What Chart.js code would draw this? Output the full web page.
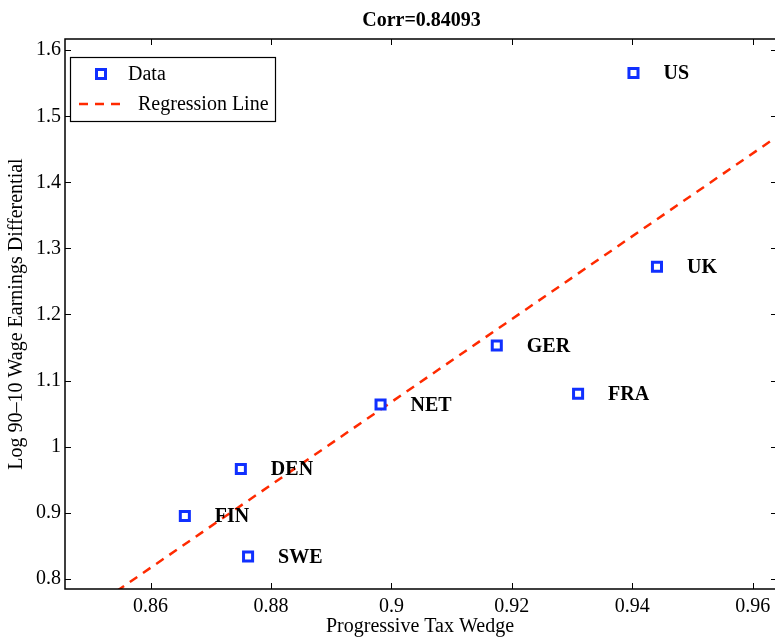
<!DOCTYPE html>
<html>
<head>
<meta charset="utf-8">
<script src="https://cdn.jsdelivr.net/npm/chart.js@4"></script>
<style>
  html, body { margin: 0; padding: 0; background: #fff; overflow: hidden; }
  canvas { display: block; }
</style>
</head>
<body>
<canvas id="myChart" width="775" height="637"></canvas>
<script>
const countries = ["US", "UK", "GER", "FRA", "NET", "DEN", "FIN", "SWE"];
const taxWedge = [0.9402, 0.9441, 0.9175, 0.9310, 0.8982, 0.8750, 0.8657, 0.8762];
const wageDiff = [1.5655, 1.2723, 1.1531, 1.0800, 1.0638, 0.9660, 0.8949, 0.8337];

const regX = [0.85, 0.97];
const regY = [0.7537, 1.5066];

const xTicks = [0.86, 0.88, 0.9, 0.92, 0.94, 0.96];
const yTicks = [0.8, 0.9, 1, 1.1, 1.2, 1.3, 1.4, 1.5, 1.6];

const titleText = "Corr=0.84093";

const FONT = "'Liberation Serif', 'Times New Roman', serif";
const BLUE = "#1030ff";
const RED = "#ff2a00";

Chart.defaults.font.family = FONT;
Chart.defaults.color = "#000";

const ctx = document.getElementById("myChart");

// matlab style box with inward ticks, labels, legend
// (the right side of the axes box is cut off by the picture edge)
const boxPlugin = {
  id: "box",
  afterDatasetsDraw(chart) {
    const { ctx, chartArea: a, scales } = chart;
    ctx.save();
    ctx.strokeStyle = "#000";
    ctx.lineWidth = 1;
    const t = 6;
    scales.x.ticks.forEach((tk) => {
      const px = Math.round(scales.x.getPixelForValue(tk.value)) + 0.5;
      ctx.beginPath();
      ctx.moveTo(px, a.bottom); ctx.lineTo(px, a.bottom - t);
      ctx.moveTo(px, a.top); ctx.lineTo(px, a.top + t);
      ctx.stroke();
    });
    scales.y.ticks.forEach((tk) => {
      const py = Math.round(scales.y.getPixelForValue(tk.value)) + 0.5;
      ctx.beginPath();
      ctx.moveTo(a.left, py); ctx.lineTo(a.left + t, py);
      ctx.moveTo(a.right, py); ctx.lineTo(a.right - 4, py);
      ctx.stroke();
    });
    ctx.lineWidth = 1.5;
    ctx.beginPath();
    ctx.moveTo(a.right, a.top); ctx.lineTo(a.left, a.top);
    ctx.lineTo(a.left, a.bottom); ctx.lineTo(a.right, a.bottom);
    ctx.stroke();

    // country labels
    ctx.fillStyle = "#000";
    ctx.font = "bold 20px " + FONT;
    ctx.textBaseline = "middle";
    ctx.textAlign = "left";
    countries.forEach((c, i) => {
      const px = scales.x.getPixelForValue(taxWedge[i]);
      const py = scales.y.getPixelForValue(wageDiff[i]);
      ctx.fillText(c, px + 30, py + 1);
    });

    // title, centred on the full axes (which run 3px past the edge)
    ctx.textAlign = "center";
    ctx.fillText(titleText, (a.left + a.right + 3) / 2, 21);
    ctx.restore();
  },
  afterDraw(chart) {
    const { ctx } = chart;
    ctx.save();
    ctx.fillStyle = "#fff";
    ctx.fillRect(70, 57, 205, 64);
    ctx.strokeStyle = "#000";
    ctx.lineWidth = 1.2;
    ctx.strokeRect(70.5, 57.5, 205, 64);

    ctx.strokeStyle = BLUE;
    ctx.lineWidth = 3;
    ctx.strokeRect(96.5, 69.5, 9, 9);

    ctx.strokeStyle = RED;
    ctx.lineWidth = 2.5;
    ctx.setLineDash([9, 7]);
    ctx.beginPath();
    ctx.moveTo(79, 104); ctx.lineTo(123, 104);
    ctx.stroke();
    ctx.setLineDash([]);

    ctx.fillStyle = "#000";
    ctx.font = "20px " + FONT;
    ctx.textBaseline = "middle";
    ctx.fillText("Data", 128, 75);
    ctx.fillText("Regression Line", 138, 105);
    ctx.restore();
  },
};

new Chart(ctx, {
  type: "scatter",
  data: {
    datasets: [
      {
        label: "Data",
        data: taxWedge.map((x, i) => ({ x: x, y: wageDiff[i] })),
        pointStyle: "rect",
        pointRadius: 6.4,
        pointBorderWidth: 3,
        pointBorderColor: BLUE,
        pointBackgroundColor: "#fff",
        showLine: false,
      },
      {
        label: "Regression Line",
        data: regX.map((x, i) => ({ x: x, y: regY[i] })),
        showLine: true,
        borderColor: RED,
        borderWidth: 2.5,
        borderDash: [9, 7],
        pointRadius: 0,
        fill: false,
      },
    ],
  },
  options: {
    responsive: false,
    animation: false,
    layout: { autoPadding: false, padding: { right: 0, top: 39 } },
    plugins: {
      legend: { display: false },
      tooltip: { enabled: false },
    },
    scales: {
      x: {
        type: "linear",
        min: 0.8458,
        max: 0.9637,
        afterBuildTicks: (s) => { s.ticks = xTicks.map((v) => ({ value: v })); },
        afterFit: (s) => { s.height = 48; s.paddingLeft = 0; s.paddingRight = 0; },
        grid: { display: false, drawTicks: false },
        border: { display: false },
        ticks: {
          color: "#000",
          padding: 6,
          font: { family: FONT, size: 20 },
          callback: (v) => String(v),
          maxRotation: 0,
        },
        title: {
          display: true,
          text: "Progressive Tax Wedge",
          color: "#000",
          font: { family: FONT, size: 20, lineHeight: 1.0 },
          padding: { top: 0, bottom: 0 },
        },
      },
      y: {
        type: "linear",
        min: 0.7844,
        max: 1.617,
        afterBuildTicks: (s) => { s.ticks = yTicks.map((v) => ({ value: v })); },
        afterFit: (s) => { s.width = 65; s.paddingTop = 0; s.paddingBottom = 0; },
        grid: { display: false, drawTicks: false },
        border: { display: false },
        ticks: {
          color: "#000",
          padding: 4,
          font: { family: FONT, size: 20 },
          callback: (v) => String(v),
        },
        title: {
          display: true,
          text: "Log 90\u201310 Wage Earnings Differential",
          color: "#000",
          font: { family: FONT, size: 20, lineHeight: 1.2 },
          padding: { top: 5, bottom: 0 },
        },
      },
    },
  },
  plugins: [boxPlugin],
});
</script>
</body>
</html>
